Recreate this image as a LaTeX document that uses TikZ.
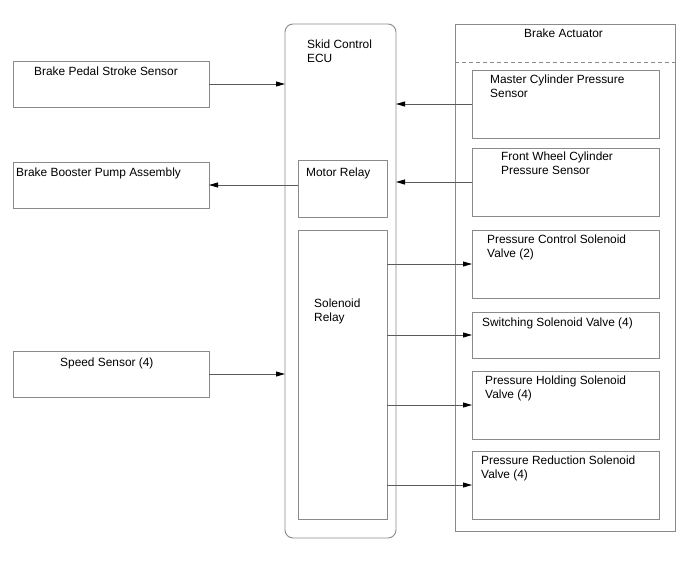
\documentclass[tikz,border=0pt]{standalone}
\usepackage{fontspec}
\setmainfont{Liberation Sans}
\usetikzlibrary{arrows.meta}
\definecolor{linegray}{HTML}{8A8A8A}
\definecolor{wiregray}{HTML}{5A5A5A}
\begin{document}
\begin{tikzpicture}[x=1pt, y=-1pt,
  box/.style={draw=linegray, line width=0.9pt, inner sep=0pt, outer sep=0pt, anchor=north west},
  txt/.style={anchor=base west, inner sep=0pt, align=left, font=\fontsize{11.9}{14}\selectfont},
  arr/.style={draw=wiregray, line width=0.8pt, -{Triangle[length=9pt, width=5pt, color=black]}}]
  \useasboundingbox (0,0) rectangle (688,560);
  % outside parts
  \node[box, minimum width=196pt, minimum height=46pt] (pedal) at (13,61) {};
  \node[box, minimum width=196pt, minimum height=46pt] (booster) at (13,162) {};
  \node[box, minimum width=196pt, minimum height=46pt] (speed) at (13,351) {};
  \node[txt] (pedaltxt) at (34,75) {Brake Pedal Stroke Sensor};
  \node[txt] (boostertxt) at (16,176) {Brake Booster Pump Assembly};
  \node[txt] (speedtxt) at (60,366) {Speed Sensor (4)};
  % skid control ECU (two-line labels sit on their last baseline)
  \node[box, rounded corners=8pt, minimum width=111pt, minimum height=514pt] (ecu) at (285,24) {};
  \node[txt] (ecutxt) at (307,62) {Skid Control\\ECU};
  \node[box, minimum width=89pt, minimum height=57pt] (motor) at (298,160) {};
  \node[txt] (motortxt) at (306,176) {Motor Relay};
  \node[box, minimum width=89pt, minimum height=289pt] (relay) at (298,230) {};
  \node[txt] (relaytxt) at (314,321) {Solenoid\\Relay};
  % brake actuator
  \node[box, minimum width=220pt, minimum height=507pt] (act) at (455,24) {};
  \node[txt] (acttxt) at (524,37) {Brake Actuator};
  \draw[linegray, line width=0.9pt, dash pattern=on 4pt off 3pt] (act.west |- 0,62) -- (act.east |- 0,62);
  \node[box, minimum width=187pt, minimum height=68pt] (mcs) at (472,70) {};
  \node[txt] at (490,97) {Master Cylinder Pressure\\Sensor};
  \node[box, minimum width=187pt, minimum height=68pt] (fws) at (472,148) {};
  \node[txt] at (501,174) {Front Wheel Cylinder\\Pressure Sensor};
  \node[box, minimum width=187pt, minimum height=68pt] (pcv) at (472,230) {};
  \node[txt] at (487,257) {Pressure Control Solenoid\\Valve (2)};
  \node[box, minimum width=187pt, minimum height=46pt] (ssv) at (472,312) {};
  \node[txt] at (482,326) {Switching Solenoid Valve (4)};
  \node[box, minimum width=187pt, minimum height=68pt] (phv) at (472,371) {};
  \node[txt] at (485,398) {Pressure Holding Solenoid\\Valve (4)};
  \node[box, minimum width=187pt, minimum height=68pt] (prv) at (472,451) {};
  \node[txt] at (481,478) {Pressure Reduction Solenoid\\Valve (4)};
  % signal lines
  \draw[arr] (pedal.east) -- (pedal.east -| ecu.west);
  \draw[arr] (speed.east) -- (speed.east -| ecu.west);
  \draw[arr] (motor.west |- booster.east) -- (booster.east);
  \draw[arr] (mcs.west) -- (mcs.west -| ecu.east);
  \draw[arr] (fws.west) -- (fws.west -| ecu.east);
  \foreach \v in {pcv,ssv,phv,prv}
    \draw[arr] (\v.west -| relay.east) -- (\v.west);
\end{tikzpicture}
\end{document}
